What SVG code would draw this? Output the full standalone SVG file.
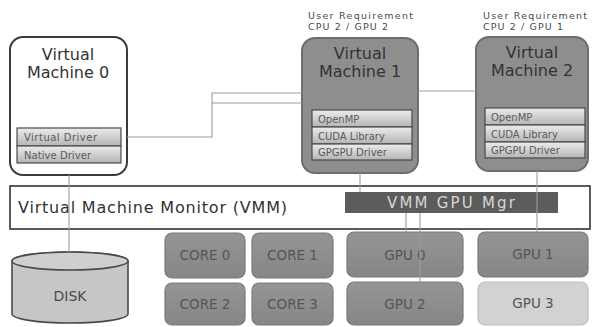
<svg xmlns="http://www.w3.org/2000/svg" width="592" height="327" viewBox="0 0 592 327">
<defs>
<linearGradient id="bar" x1="0" y1="0" x2="0" y2="1">
<stop offset="0" stop-color="#ececec"/>
<stop offset="1" stop-color="#b4b4b4"/>
</linearGradient>
<linearGradient id="unit" x1="0" y1="0" x2="0" y2="1">
<stop offset="0" stop-color="#959595"/>
<stop offset="1" stop-color="#868686"/>
</linearGradient>
<style>
text{font-family:"DejaVu Sans","Liberation Sans",sans-serif}
.title{font-size:16px;fill:#333333;text-anchor:middle}
.vm0{fill:#ffffff;stroke:#3a3a3a;stroke-width:2}
.vmg{fill:#8e8e8e;stroke:#6e6e6e;stroke-width:2}
.bar{fill:url(#bar);stroke:#4a4a4a;stroke-width:1.2}
.bt{font-size:10px;fill:#5a5a5a}
.req{font-size:9.5px;fill:#4a4a4a}
.unit{fill:url(#unit);stroke:#7a7a7a;stroke-width:1.2}
.ut{font-size:13.5px;fill:#555555;text-anchor:middle}
.conn{fill:none;stroke:#9c9c9c;stroke-width:1.1}
</style>
</defs>
<rect width="592" height="327" fill="#ffffff"/>

<g id="vmm">
<rect x="10" y="186" width="580" height="43" fill="#ffffff" stroke="#333" stroke-width="1.6"/>
<text x="18" y="213" font-size="16" fill="#333333" textLength="269" lengthAdjust="spacing">Virtual Machine Monitor (VMM)</text>
</g>

<g id="vmm-gpu-mgr">
<rect x="345" y="192" width="213" height="21" fill="#5c5c5c"/>
<text x="451" y="207.5" font-size="15" fill="#d6d6d6" text-anchor="middle" textLength="128" lengthAdjust="spacing">VMM GPU Mgr</text>
</g>

<g id="vm0">
<rect class="vm0" x="10" y="37" width="117" height="138" rx="13"/>
<text class="title" x="68" y="60">Virtual</text>
<text class="title" x="68" y="78">Machine 0</text>
<rect class="bar" x="17" y="128" width="104" height="18"/>
<text class="bt" x="24" y="141" textLength="73" lengthAdjust="spacing">Virtual Driver</text>
<rect class="bar" x="17" y="146" width="104" height="17"/>
<text class="bt" x="24" y="158.5" textLength="67" lengthAdjust="spacing">Native Driver</text>
</g>

<g id="vm1">
<text class="req" x="308" y="19" textLength="105" lengthAdjust="spacing">User Requirement</text>
<text class="req" x="308" y="30" textLength="80" lengthAdjust="spacing">CPU 2 / GPU 2</text>
<rect class="vmg" x="302" y="38" width="116" height="135" rx="13"/>
<text class="title" x="360" y="59">Virtual</text>
<text class="title" x="360" y="77">Machine 1</text>
<rect class="bar" x="312" y="110" width="100" height="17"/>
<text class="bt" x="318" y="122.5">OpenMP</text>
<rect class="bar" x="312" y="127" width="100" height="17"/>
<text class="bt" x="318" y="139.5">CUDA Library</text>
<rect class="bar" x="312" y="144" width="100" height="16"/>
<text class="bt" x="318" y="156">GPGPU Driver</text>
</g>

<g id="vm2">
<text class="req" x="483" y="19" textLength="104" lengthAdjust="spacing">User Requirement</text>
<text class="req" x="483" y="30" textLength="80" lengthAdjust="spacing">CPU 2 / GPU 1</text>
<rect class="vmg" x="476" y="37" width="112" height="134" rx="13"/>
<text class="title" x="532" y="58">Virtual</text>
<text class="title" x="532" y="76">Machine 2</text>
<rect class="bar" x="485" y="108" width="100" height="17"/>
<text class="bt" x="491" y="120.5">OpenMP</text>
<rect class="bar" x="485" y="125" width="100" height="17"/>
<text class="bt" x="491" y="137.5">CUDA Library</text>
<rect class="bar" x="485" y="142" width="100" height="16"/>
<text class="bt" x="491" y="154">GPGPU Driver</text>
</g>

<g id="disk">
<path d="M12,261 A58,9 0 0,1 128,261 L128,314 A58,9 0 0,1 12,314 Z" fill="#c6c6c6" stroke="#4a4a4a" stroke-width="1.6"/>
<ellipse cx="70" cy="261" rx="58" ry="9" fill="#cfcfcf" stroke="#4a4a4a" stroke-width="1.6"/>
<text x="70" y="301" font-size="14" fill="#4a4a4a" text-anchor="middle">DISK</text>
</g>

<g id="core0"><rect class="unit" x="165" y="233" width="80" height="45" rx="7"/><text class="ut" x="205" y="260">CORE 0</text></g>
<g id="core1"><rect class="unit" x="252" y="233" width="81" height="45" rx="7"/><text class="ut" x="292.5" y="260">CORE 1</text></g>
<g id="core2"><rect class="unit" x="165" y="283" width="80" height="42" rx="7"/><text class="ut" x="205" y="309">CORE 2</text></g>
<g id="core3"><rect class="unit" x="252" y="283" width="81" height="42" rx="7"/><text class="ut" x="292.5" y="309">CORE 3</text></g>
<g id="gpu0"><rect class="unit" x="347" y="232" width="116" height="45" rx="7"/><text class="ut" x="405" y="260">GPU 0</text></g>
<g id="gpu1"><rect class="unit" x="478" y="232" width="110" height="45" rx="7"/><text class="ut" x="533" y="259">GPU 1</text></g>
<g id="gpu2"><rect class="unit" x="347" y="282" width="116" height="43" rx="7"/><text class="ut" x="405" y="309">GPU 2</text></g>
<g id="gpu3"><rect x="478" y="282" width="110" height="43" rx="7" fill="#d2d2d2" stroke="#bdbdbd" stroke-width="1.2"/><text class="ut" x="533" y="308" fill="#6a6a6a">GPU 3</text></g>

<g id="connectors">
<path class="conn" d="M127,137 H212 V93 H302"/>
<path class="conn" d="M212,103 H302"/>
<path class="conn" d="M418,91 H476"/>
<path class="conn" d="M69,175 V252"/>
<path class="conn" d="M360,173 V192"/>
<path class="conn" d="M537,171 V232"/>
<path class="conn" d="M406,213 V232"/>
<path class="conn" d="M420,213 V282"/>
</g>
</svg>
